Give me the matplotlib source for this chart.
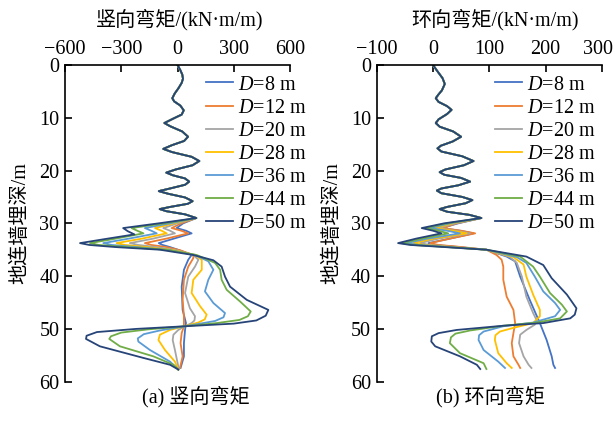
import matplotlib.pyplot as plt
import matplotlib.transforms as mtransforms

plt.rcParams['font.family'] = ['Liberation Serif', 'Noto Sans CJK SC']
plt.rcParams['font.size'] = 14.5
plt.rcParams['mathtext.fontset'] = 'custom'
plt.rcParams['mathtext.it'] = 'Liberation Serif:italic'
plt.rcParams['mathtext.rm'] = 'Liberation Serif'

labels = [r'$D$=8 m', r'$D$=12 m', r'$D$=20 m', r'$D$=28 m', r'$D$=36 m', r'$D$=44 m', r'$D$=50 m']
colors = ['#4472C4', '#ED7D31', '#A5A5A5', '#FFC000', '#5B9BD5', '#70AD47', '#264478']

# (depth m, moment) pairs, upper part common to all D
vert_top = [(0, 0), (1.0, 15), (1.8, 25), (2.6, 29), (3.4, 22), (4.4, 5), (5.4, -15), (6.3, -28),
            (6.9, -18), (7.7, 15), (8.6, 33), (9.4, 22), (10.2, -25), (11.0, -70), (11.6, -40),
            (12.6, 25), (13.6, 56), (14.4, 35), (15.2, -30), (15.9, -76), (16.5, -30), (17.4, 75),
            (18.2, 116), (19.0, 80), (19.8, -10), (20.4, -60), (20.9, -25), (21.5, 40), (22.1, 62),
            (22.7, 40), (23.4, -40), (23.9, -100), (24.4, -50), (25.1, 40), (25.8, 80), (26.3, 55),
            (26.9, -40), (27.3, -95), (27.7, -60), (28.3, 40), (29.0, 100)]

vert_d8 = [(30.0, 30), (30.9, -5), (31.4, 45), (31.9, 75), (32.9, -20), (33.75, -100), (34.1, -80),
           (34.5, -40), (35.1, 10), (36.0, 75), (36.9, 57), (38.8, 34), (42.0, 22), (46.4, 27),
           (48.9, 45), (50.2, 40), (52.7, 34), (55.2, 34), (57.4, 16)]
vert_d12 = [(30.0, 20), (30.9, -31), (31.4, 20), (31.9, 57), (32.9, -60), (33.75, -174), (34.1, -140),
            (34.5, -58), (35.1, 13), (36.0, 84), (36.6, 84), (38.2, 57), (40.7, 34), (44.5, 27),
            (47.6, 34), (49.5, 34), (50.8, 22), (52.7, 16), (55.2, 27), (57.4, 13)]
vert_d20 = [(30.0, 0), (30.9, -76), (31.4, -40), (31.9, -14), (32.9, -130), (33.75, -254), (34.1, -210),
            (34.5, -111), (35.1, -5), (36.0, 84), (36.9, 111), (38.2, 93), (40.1, 57), (43.2, 40),
            (46.1, 66), (47.6, 93), (48.4, 90), (48.9, 75), (49.5, 40), (50.2, 4), (51.1, -22),
            (52.1, -26), (54.0, -14), (57.1, 4), (57.7, 4)]
vert_d28 = [(30.0, -20), (30.9, -120), (31.4, -85), (31.9, -58), (32.9, -190), (33.75, -325), (34.1, -280),
            (34.5, -165), (35.1, -22), (36.0, 93), (36.9, 129), (38.8, 129), (40.7, 84), (43.2, 75),
            (45.7, 120), (47.3, 155), (48.2, 145), (48.8, 110), (49.4, 48), (50.2, -40), (51.1, -94),
            (52.1, -102), (54.0, -67), (56.2, -14), (57.7, 4)]
vert_d36 = [(30.0, -40), (30.9, -174), (31.4, -140), (31.9, -111), (32.9, -260), (33.75, -396), (34.1, -350),
            (34.5, -218), (35.1, -40), (36.0, 93), (37.2, 164), (38.8, 191), (40.7, 164), (42.9, 146),
            (45.1, 191), (47.0, 253), (47.8, 245), (48.5, 200), (49.0, 120), (49.5, 40), (50.3, -94),
            (51.0, -180), (51.8, -212), (52.4, -209), (54.0, -147), (56.2, -40), (57.7, 4)]
vert_d44 = [(30.0, -70), (30.9, -245), (31.4, -215), (31.9, -182), (32.9, -330), (33.75, -467), (34.1, -420),
            (34.5, -270), (35.0, -58), (36.0, 102), (37.5, 200), (38.8, 227), (40.7, 235), (42.6, 262),
            (44.8, 333), (46.7, 390), (47.6, 375), (48.3, 330), (48.9, 209), (49.5, 40), (50.1, -160),
            (50.7, -300), (51.4, -355), (51.9, -364), (53.3, -307), (55.2, -129), (56.8, -22), (57.7, 4)]
vert_d50 = [(30.0, -100), (30.9, -290), (31.5, -265), (32.1, -230), (33.0, -390), (33.75, -520), (34.1, -470),
            (34.5, -330), (35.0, -94), (36.0, 84), (37.0, 191), (38.2, 235), (40.1, 253), (42.0, 280),
            (44.5, 369), (46.4, 484), (47.5, 470), (48.4, 420), (49.0, 300), (49.5, 40), (50.0, -220),
            (50.6, -430), (51.3, -485), (51.9, -488), (53.3, -414), (55.5, -182), (56.8, -40), (57.7, 4)]

hoop_top = [(0, 0), (1.2, 8), (2.5, 17), (3.6, 21), (4.8, 16), (5.7, 9), (6.3, 5), (7.0, 10), (7.8, 25),
            (8.5, 33), (9.3, 25), (10.3, 10), (11.0, 5), (11.7, 12), (12.6, 36), (13.6, 50), (14.5, 35),
            (15.3, 14), (15.8, 8), (16.4, 15), (17.3, 52), (18.2, 72), (19.0, 55), (19.8, 22), (20.3, 12),
            (20.8, 20), (21.4, 50), (22.1, 66), (22.8, 45), (23.4, 15), (23.8, 7), (24.3, 15), (25.0, 52),
            (25.6, 70), (26.2, 58), (26.9, 25), (27.3, 12), (27.8, 25), (28.4, 65), (29.0, 86)]

hoop_d8 = [(30.0, 45), (30.9, 15), (31.4, 48), (31.9, 72), (32.9, 30), (33.75, -8), (34.1, 5), (34.4, 36),
           (35.0, 95), (36.3, 131), (37.2, 146), (40.1, 155), (44.5, 172), (48.9, 190), (52.1, 202),
           (55.2, 211), (56.8, 214), (57.4, 217)]
hoop_d12 = [(30.0, 42), (30.9, 18), (31.4, 50), (31.9, 75), (32.9, 30), (33.75, -5), (34.1, 10), (34.4, 42),
            (35.0, 95), (36.0, 113), (36.9, 122), (38.2, 125), (40.7, 125), (43.9, 131), (46.4, 143),
            (48.9, 146), (50.8, 143), (52.7, 140), (55.2, 143), (56.8, 152), (57.4, 155)]
hoop_d20 = [(30.0, 40), (30.9, 10), (31.4, 40), (31.9, 66), (32.9, 10), (33.75, -23), (34.1, -5), (34.4, 27),
            (35.0, 95), (36.4, 137), (37.5, 149), (40.1, 158), (43.9, 166), (47.0, 178), (48.3, 184),
            (49.2, 181), (50.2, 166), (51.1, 155), (52.7, 153), (55.2, 161), (56.8, 170), (57.4, 175)]
hoop_d28 = [(30.0, 35), (30.9, 4), (31.4, 35), (31.9, 60), (32.9, 0), (33.75, -35), (34.1, -15), (34.4, 21),
            (35.0, 95), (36.4, 143), (37.8, 161), (40.1, 166), (43.5, 178), (46.4, 190), (47.6, 190),
            (48.9, 178), (49.8, 143), (50.5, 119), (51.2, 111), (52.1, 110), (54.6, 116), (56.5, 131),
            (57.4, 140)]
hoop_d36 = [(30.0, 30), (30.9, -5), (31.4, 25), (31.9, 48), (32.9, -10), (33.75, -47), (34.1, -25), (34.4, 15),
            (35.0, 95), (36.4, 149), (37.5, 166), (40.1, 181), (42.9, 196), (45.1, 217), (46.4, 226),
            (47.6, 217), (48.8, 178), (49.5, 125), (50.5, 90), (51.2, 82), (52.1, 81), (54.0, 90),
            (56.2, 116), (57.4, 128)]
hoop_d44 = [(30.0, 25), (30.9, -14), (31.4, 10), (31.9, 27), (32.9, -20), (33.75, -56), (34.1, -35), (34.4, 12),
            (35.0, 95), (36.3, 155), (38.2, 178), (40.1, 190), (43.2, 208), (45.4, 229), (46.7, 238),
            (48.0, 226), (48.8, 184), (49.4, 125), (50.3, 66), (50.9, 40), (51.6, 32), (52.7, 30),
            (54.6, 48), (56.5, 90), (57.6, 95)]
hoop_d50 = [(30.0, 20), (30.9, -20), (31.4, 0), (31.9, 15), (32.9, -30), (33.75, -62), (34.1, -40), (34.4, 6),
            (35.0, 95), (36.3, 166), (37.9, 196), (40.4, 211), (43.5, 238), (46.1, 255), (47.3, 252),
            (48.0, 244), (48.9, 196), (49.4, 125), (50.2, 42), (50.8, 10), (51.4, -2), (52.4, -3),
            (53.3, 4), (55.2, 48), (56.8, 78), (57.6, 84)]

vert_series = [vert_d8, vert_d12, vert_d20, vert_d28, vert_d36, vert_d44, vert_d50]
hoop_series = [hoop_d8, hoop_d12, hoop_d20, hoop_d28, hoop_d36, hoop_d44, hoop_d50]

fig = plt.figure(figsize=(6.15, 4.24), dpi=100)
ax1 = fig.add_axes([0.1057, 0.0998, 0.366, 0.747])
ax2 = fig.add_axes([0.6125, 0.0998, 0.366, 0.747])


def draw(ax, top, series, xlim, xticks, xlabel, title_x, leg_x):
    for pts, c, lab in zip(series, colors, labels):
        d = [p[0] for p in top + pts]
        m = [p[1] for p in top + pts]
        ax.plot(m, d, color=c, lw=1.3, label=lab)
    ax.set_xlim(*xlim)
    ax.set_ylim(60, 0)
    ax.set_xticks(xticks)
    ax.set_yticks(range(0, 61, 10))
    ax.xaxis.tick_top()
    ax.xaxis.set_label_position('top')
    for s in ['right', 'bottom']:
        ax.spines[s].set_visible(False)
    for s in ['left', 'top']:
        ax.spines[s].set_linewidth(1.2)
    ax.tick_params(direction='in', length=5, width=1.2, pad=4, labelsize=14.5)
    ax.set_xlabel(xlabel, fontsize=14.5)
    ax.xaxis.set_label_coords(title_x, 1.125)
    ax.set_ylabel('地连墙埋深/m', fontsize=14.5)
    ax.yaxis.set_label_coords(-0.152, 0.5)
    ax.legend(loc='upper left', bbox_to_anchor=(leg_x, 0.967), frameon=False, fontsize=14.5,
              borderpad=0, borderaxespad=0, labelspacing=0.2, handlelength=1.33, handletextpad=0.25)


draw(ax1, vert_top, vert_series, (-600, 600), [-600, -300, 0, 300, 600],
     '竖向弯矩/(kN·m/m)', 0.511, 0.627)
draw(ax2, hoop_top, hoop_series, (-100, 300), [-100, 0, 100, 200, 300],
     '环向弯矩/(kN·m/m)', 0.526, 0.526)

# keep the last top tick label of the right panel inside the canvas
last = ax2.get_xticklabels()[-1]
last.set_transform(last.get_transform() + mtransforms.ScaledTranslation(-4 / 100, 0, fig.dpi_scale_trans))

fig.text(196 / 615, 1 - 397 / 424, '(a) 竖向弯矩', ha='center', va='center', fontsize=14.5)
fig.text(490 / 615, 1 - 397 / 424, '(b) 环向弯矩', ha='center', va='center', fontsize=14.5)

fig.savefig('out.png', dpi=100)
